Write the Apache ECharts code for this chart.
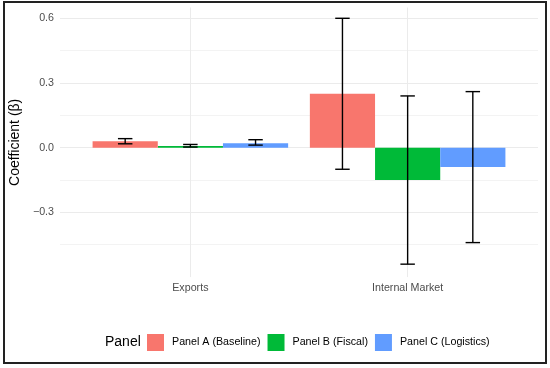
<!DOCTYPE html>
<html>
<head>
<meta charset="utf-8">
<script src="https://cdn.jsdelivr.net/npm/echarts@6/dist/echarts.min.js"></script>
<style>
html,body{margin:0;padding:0;background:#fff;}
#chart{width:550px;height:368px;}
</style>
</head>
<body>
<div id="chart"></div>
<script>
// ---- data ----
var categories = ['Exports', 'Internal Market'];
var panels = ['Panel A (Baseline)', 'Panel B (Fiscal)', 'Panel C (Logistics)'];
var coefA = [0.030, 0.25];
var lowA  = [0.018, -0.10];
var highA = [0.042, 0.60];
var coefB = [0.008, -0.15];
var lowB  = [0.003, -0.54];
var highB = [0.015, 0.24];
var coefC = [0.021, -0.09];
var lowC  = [0.012, -0.44];
var highC = [0.037, 0.26];
var yTicks = [-0.3, 0.0, 0.3, 0.6];
var yTickLabels = ['\u22120.3', '0.0', '0.3', '0.6'];
var colors = ['#F8766D', '#00BA38', '#619CFF'];

var coefs = [coefA, coefB, coefC];
var lows = [lowA, lowB, lowC];
var highs = [highA, highB, highC];

var BAR_W = 0.3;      // dodge width 0.9 / 3
var CAP_HALF = 0.0333; // errorbar width 0.2 / 3 / 2

function makeRender(s) {
  return function (params, api) {
    var i = api.value(0), v = api.value(1), lo = api.value(2), hi = api.value(3);
    var xc = i + (s - 1) * BAR_W;
    var a = api.coord([xc - BAR_W / 2, v]);
    var b = api.coord([xc + BAR_W / 2, 0]);
    var top = Math.min(a[1], b[1]), h = Math.abs(a[1] - b[1]);
    var pHi = api.coord([xc, hi]), pLo = api.coord([xc, lo]);
    var cl = api.coord([xc - CAP_HALF, hi])[0], cr = api.coord([xc + CAP_HALF, hi])[0];
    var ls = {stroke: '#000', lineWidth: 1.4};
    return {
      type: 'group',
      children: [
        {type: 'rect', shape: {x: a[0], y: top, width: b[0] - a[0], height: h}, style: {fill: colors[s]}},
        {type: 'line', shape: {x1: pHi[0], y1: pHi[1], x2: pLo[0], y2: pLo[1]}, style: ls, z2: 10},
        {type: 'line', shape: {x1: cl, y1: pHi[1], x2: cr, y2: pHi[1]}, style: ls, z2: 10},
        {type: 'line', shape: {x1: cl, y1: pLo[1], x2: cr, y2: pLo[1]}, style: ls, z2: 10}
      ]
    };
  };
}

var series = panels.map(function (name, s) {
  return {
    name: name,
    type: 'custom',
    renderItem: makeRender(s),
    itemStyle: {color: colors[s]},
    encode: {x: 0, y: [1, 2, 3]},
    data: categories.map(function (c, i) {
      return [i + 1, coefs[s][i], lows[s][i], highs[s][i]];
    }),
    z: s === 0 ? 3 : 2
  };
});

var T = 'rgba(0,0,0,0)', MAJ = '#ebebeb', MIN = '#f3f3f3';
var xLineColors = [T, T, T, MAJ, T, T, T, T, MAJ, T, T, T];
var yLineColors = [T, MIN, MAJ, MIN, MAJ, MIN, MAJ, MIN, MAJ, T];
var FONT = 'Liberation Sans, Arial, sans-serif';

var chart = echarts.init(document.getElementById('chart'), null, {renderer: 'canvas'});
chart.setOption({
  animation: false,
  backgroundColor: '#fff',
  textStyle: {fontFamily: FONT},
  grid: {left: 56, right: 12, top: 7.5, bottom: 90.9, containLabel: false},
  title: {
    text: 'Panel', left: 100, top: 330,
    textStyle: {fontSize: 14, fontWeight: 'normal', color: '#000', fontFamily: FONT}
  },
  legend: {
    left: 142, top: 329,
    itemWidth: 17, itemHeight: 17, itemGap: 7,
    icon: 'rect',
    data: panels,
    textStyle: {fontSize: 10.7, color: '#000', padding: [0, 0, 0, 3], fontFamily: FONT}
  },
  xAxis: {
    type: 'value', min: 0.4, max: 2.6, interval: 0.2,
    axisLine: {show: false}, axisTick: {show: false},
    splitLine: {show: true, lineStyle: {color: xLineColors, width: 1}},
    axisLabel: {
      color: '#4d4d4d', fontSize: 10.7, margin: 5,
      formatter: function (v) {
        var r = Math.round(v);
        if (Math.abs(v - r) < 1e-6 && r >= 1 && r <= categories.length) return categories[r - 1];
        return '';
      }
    }
  },
  yAxis: {
    type: 'value', min: -0.6, max: 0.65, interval: 0.15,
    name: 'Coefficient (\u03b2)', nameLocation: 'middle', nameGap: 30,
    nameTextStyle: {fontSize: 14, color: '#000'},
    axisLine: {show: false}, axisTick: {show: false},
    splitLine: {show: true, lineStyle: {color: yLineColors, width: 1}},
    axisLabel: {
      color: '#4d4d4d', fontSize: 10.7, margin: 6,
      formatter: function (v) {
        for (var k = 0; k < yTicks.length; k++) {
          if (Math.abs(v - yTicks[k]) < 1e-6) return yTickLabels[k];
        }
        return '';
      }
    }
  },
  graphic: [{
    type: 'rect', silent: true, z: 100,
    shape: {x: 4, y: 2, width: 542, height: 361},
    style: {fill: null, stroke: '#222', lineWidth: 2}
  }],
  series: series
});
</script>
</body>
</html>
